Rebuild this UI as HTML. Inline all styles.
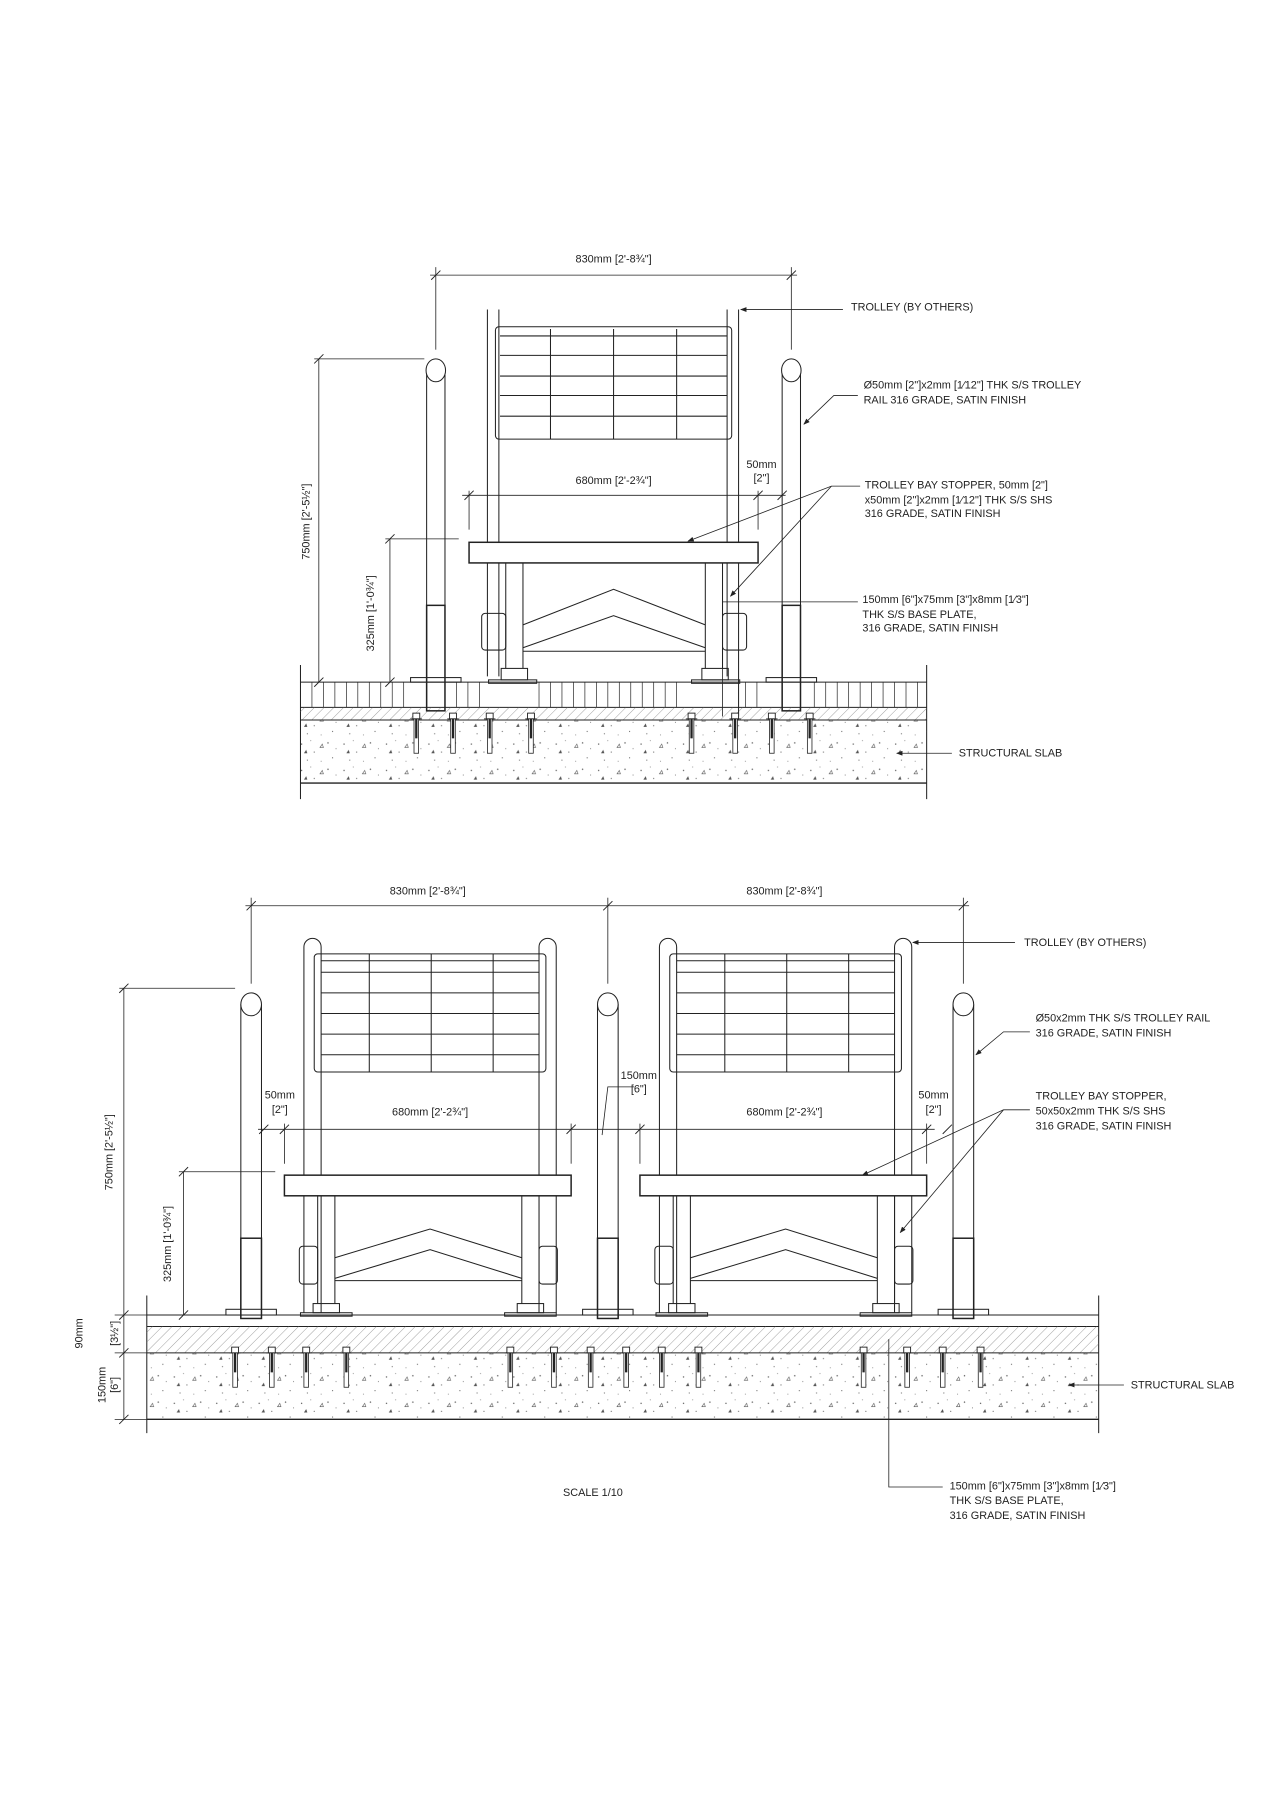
<!DOCTYPE html>
<html><head><meta charset="utf-8"><style>
html,body{margin:0;padding:0;background:#fff;}
svg{display:block;}
text{font-family:"Liberation Sans",sans-serif;font-size:9.5px;fill:#222;}
</style></head><body>
<svg width="1273" height="1800" viewBox="0 0 1110 1570" preserveAspectRatio="none" xmlns="http://www.w3.org/2000/svg">
<defs>
<pattern id="hatch" width="6" height="6" patternUnits="userSpaceOnUse" patternTransform="rotate(45)">
<line x1="0" y1="0" x2="0" y2="6" stroke="#777" stroke-width="0.6"/></pattern>
<pattern id="conc" width="37" height="23" patternUnits="userSpaceOnUse">
<circle cx="4" cy="5" r="0.6" fill="#555"/><circle cx="15" cy="12" r="0.5" fill="#555"/><circle cx="27" cy="4" r="0.6" fill="#555"/>
<circle cx="31" cy="17" r="0.5" fill="#555"/><circle cx="9" cy="19" r="0.5" fill="#555"/><circle cx="21" cy="20" r="0.4" fill="#555"/>
<path d="M20 8 l2 -3 l1 3z" fill="none" stroke="#555" stroke-width="0.5"/>
<path d="M6 13 l2 -3 l1 3z" fill="#555"/>
<circle cx="34" cy="9" r="0.4" fill="#555"/><circle cx="12" cy="2" r="0.4" fill="#555"/>
</pattern>
<marker id="ar" markerWidth="8" markerHeight="6" refX="7" refY="3" orient="auto"><path d="M0 0 L8 3 L0 6z" fill="#222"/></marker>
<g id="bolt"><rect x="-3" y="0" width="6" height="5" fill="#fff" stroke="#222" stroke-width="0.8"/><line x1="-5" y1="5" x2="5" y2="5" stroke="#222"/><rect x="-2" y="5" width="4" height="30" fill="#fff" stroke="#222" stroke-width="0.7"/><line x1="0" y1="5" x2="0" y2="22" stroke="#222" stroke-width="2"/></g>
<g id="tick"><line x1="-4" y1="4" x2="4" y2="-4" stroke="#222" stroke-width="0.8"/></g>
</defs>
<g stroke="#222" stroke-width="0.9" fill="none">
<!-- ===== TOP DRAWING ===== -->
<!-- floor -->
<line x1="262" y1="580" x2="262" y2="697"/><line x1="808" y1="580" x2="808" y2="697"/>
<line x1="262" y1="595" x2="808" y2="595"/>
<line x1="262" y1="617" x2="808" y2="617"/>
<rect x="262" y="617" width="546" height="11" fill="url(#hatch)" stroke="none"/>
<line x1="262" y1="628" x2="808" y2="628"/>
<rect x="262" y="628" width="546" height="55" fill="url(#conc)" stroke="none"/>
<line x1="262" y1="683" x2="808" y2="683" stroke-width="1.2"/>
<g stroke-width="0.6">
<path d="M272 595v22M282 595v22M292 595v22M302 595v22M312 595v22M322 595v22M332 595v22M342 595v22M352 595v22M398 595v22M408 595v22M418 595v22M470 595v22M480 595v22M490 595v22M500 595v22M510 595v22M520 595v22M530 595v22M540 595v22M550 595v22M560 595v22M570 595v22M580 595v22M590 595v22M650 595v22M660 595v22M710 595v22M720 595v22M730 595v22M740 595v22M750 595v22M760 595v22M770 595v22M780 595v22M790 595v22M800 595v22"/>
</g>
<!-- posts -->
<g fill="#fff">
<line x1="372" y1="323" x2="372" y2="620"/><line x1="388" y1="323" x2="388" y2="620"/>
<ellipse cx="380" cy="323" rx="8.5" ry="10"/>
<line x1="682" y1="323" x2="682" y2="620"/><line x1="698" y1="323" x2="698" y2="620"/>
<ellipse cx="690" cy="323" rx="8.5" ry="10"/>
</g>
<rect x="372" y="528" width="16" height="92" stroke-width="1.3"/>
<rect x="682" y="528" width="16" height="92" stroke-width="1.3"/>
<rect x="358" y="591" width="44" height="4"/><rect x="668" y="591" width="44" height="4"/>
<!-- trolley -->
<line x1="425" y1="270" x2="425" y2="590"/><line x1="435" y1="270" x2="435" y2="590"/>
<line x1="634" y1="270" x2="634" y2="590"/><line x1="644" y1="270" x2="644" y2="625"/>
<rect x="432" y="285" width="206" height="98" rx="3"/>
<path d="M436 293H634M436 310H634M436 328H634M436 345H634M436 363H634M480 287V383M535 287V383M590 287V383"/>
<rect x="409" y="473" width="252" height="18" stroke-width="1.3" fill="#fff"/>
<path d="M441 491V583M456 491V583M615 491V583M630 491V583"/>
<rect x="420" y="535" width="21" height="32" rx="3"/><rect x="630" y="535" width="21" height="32" rx="3"/>
<path d="M456 545L535 514L615 545M456 565L535 537L615 565M456 568H615"/>
<rect x="437" y="583" width="23" height="10"/><rect x="612" y="583" width="23" height="10"/>
<rect x="426" y="593" width="42" height="3"/><rect x="603" y="593" width="42" height="3"/>
<!-- bolts top -->
<g fill="#fff" stroke-width="0.7">
<use href="#bolt" x="363" y="622"/><use href="#bolt" x="395" y="622"/><use href="#bolt" x="427" y="622"/><use href="#bolt" x="463" y="622"/>
<use href="#bolt" x="603" y="622"/><use href="#bolt" x="641" y="622"/><use href="#bolt" x="673" y="622"/><use href="#bolt" x="706" y="622"/>
</g>
<!-- dims top -->
<line x1="375" y1="240" x2="695" y2="240" stroke-width="0.7"/>
<line x1="380" y1="233" x2="380" y2="305" stroke-width="0.7"/><line x1="690" y1="233" x2="690" y2="305" stroke-width="0.7"/>
<use href="#tick" x="380" y="240"/><use href="#tick" x="690" y="240"/>
<line x1="278" y1="313" x2="278" y2="595" stroke-width="0.7"/><line x1="274" y1="313" x2="370" y2="313" stroke-width="0.7"/>
<use href="#tick" x="278" y="313"/><use href="#tick" x="278" y="595"/>
<line x1="340" y1="470" x2="340" y2="595" stroke-width="0.7"/><line x1="336" y1="470" x2="400" y2="470" stroke-width="0.7"/>
<use href="#tick" x="340" y="470"/><use href="#tick" x="340" y="595"/>
<line x1="403" y1="432" x2="685" y2="432" stroke-width="0.7"/>
<line x1="409" y1="428" x2="409" y="460" y2="462" stroke-width="0.7"/><line x1="661" y1="428" x2="661" y2="462" stroke-width="0.7"/>
<use href="#tick" x="409" y="432"/><use href="#tick" x="661" y="432"/><use href="#tick" x="682" y="432"/>
<!-- leaders top -->
<line x1="735" y1="270" x2="646" y2="270" marker-end="url(#ar)" stroke-width="0.7"/>
<path d="M748 345H727L701 370" marker-end="url(#ar)" stroke-width="0.7"/>
<path d="M750 424H725L600 472" marker-end="url(#ar)" stroke-width="0.7"/>
<path d="M725 424L637 520" marker-end="url(#ar)" stroke-width="0.7"/>
<path d="M748 525H630V625" stroke-width="0.7"/>
<line x1="830" y1="657" x2="782" y2="657" marker-end="url(#ar)" stroke-width="0.7"/>

<!-- ===== BOTTOM DRAWING ===== -->
<line x1="128" y1="1130" x2="128" y2="1250"/><line x1="958" y1="1130" x2="958" y2="1250"/>
<line x1="128" y1="1147" x2="958" y2="1147"/>
<line x1="128" y1="1157" x2="958" y2="1157"/>
<rect x="128" y="1157" width="830" height="23" fill="url(#hatch)" stroke="none"/>
<line x1="128" y1="1180" x2="958" y2="1180"/>
<rect x="128" y="1180" width="830" height="58" fill="url(#conc)" stroke="none"/>
<line x1="128" y1="1238" x2="958" y2="1238" stroke-width="1.2"/>
<!-- posts bottom -->
<g fill="#fff">
<path d="M210 876V1150M228 876V1150M521 876V1150M539 876V1150M831 876V1150M849 876V1150"/>
<ellipse cx="219" cy="876" rx="9" ry="10"/><ellipse cx="530" cy="876" rx="9" ry="10"/><ellipse cx="840" cy="876" rx="9" ry="10"/>
</g>
<rect x="210" y="1080" width="18" height="70" stroke-width="1.3"/>
<rect x="521" y="1080" width="18" height="70" stroke-width="1.3"/>
<rect x="831" y="1080" width="18" height="70" stroke-width="1.3"/>
<rect x="197" y="1142" width="44" height="5"/><rect x="508" y="1142" width="44" height="5"/><rect x="818" y="1142" width="44" height="5"/>
<!-- trolleys bottom -->
<g id="trol">
<path d="M265 1145V826a7.5 7.5 0 0 1 15 0V1145M470 1145V826a7.5 7.5 0 0 1 15 0V1145"/>
<rect x="274" y="832" width="202" height="103" rx="3"/>
<path d="M280 838H470M280 848H470M280 866H470M280 884H470M280 902H470M280 920H470M322 832V935M376 832V935M430 832V935"/>
<rect x="248" y="1025" width="250" height="18" stroke-width="1.3" fill="#fff"/>
<path d="M277 1043V1137M292 1043V1137M455 1043V1137M470 1043V1137"/>
<rect x="261" y="1087" width="16" height="33" rx="3"/><rect x="470" y="1087" width="16" height="33" rx="3"/>
<path d="M292 1097L375 1072L455 1097M292 1115L375 1090L455 1115M292 1117H455"/>
<rect x="273" y="1137" width="23" height="8"/><rect x="451" y="1137" width="23" height="8"/>
<rect x="262" y="1145" width="45" height="3"/><rect x="440" y="1145" width="45" height="3"/>
</g>
<use href="#trol" x="310" y="0"/>
<!-- bolts bottom -->
<g fill="#fff" stroke-width="0.7">
<use href="#bolt" x="205" y="1175"/><use href="#bolt" x="237" y="1175"/><use href="#bolt" x="267" y="1175"/><use href="#bolt" x="302" y="1175"/>
<use href="#bolt" x="445" y="1175"/><use href="#bolt" x="483" y="1175"/><use href="#bolt" x="515" y="1175"/><use href="#bolt" x="546" y="1175"/>
<use href="#bolt" x="577" y="1175"/><use href="#bolt" x="609" y="1175"/><use href="#bolt" x="753" y="1175"/><use href="#bolt" x="791" y="1175"/>
<use href="#bolt" x="822" y="1175"/><use href="#bolt" x="855" y="1175"/>
</g>
<!-- dims bottom -->
<g stroke-width="0.7">
<line x1="214" y1="790" x2="845" y2="790"/>
<line x1="219" y1="783" x2="219" y2="858"/><line x1="530" y1="783" x2="530" y2="858"/><line x1="840" y1="783" x2="840" y2="858"/>
<line x1="108" y1="862" x2="108" y2="1238"/><line x1="104" y1="862" x2="205" y2="862"/>
<line x1="100" y1="1147" x2="128" y2="1147"/><line x1="100" y1="1180" x2="128" y2="1180"/><line x1="100" y1="1238" x2="128" y2="1238"/>
<line x1="160" y1="1022" x2="160" y2="1147"/><line x1="156" y1="1022" x2="240" y2="1022"/>
<line x1="225" y1="985" x2="815" y2="985"/>
<line x1="248" y1="980" x2="248" y2="1015"/><line x1="498" y1="980" x2="498" y2="1015"/><line x1="558" y1="980" x2="558" y2="1015"/><line x1="808" y1="980" x2="808" y2="1015"/>
<path d="M553 948H530L525 990"/>
</g>
<use href="#tick" x="219" y="790"/><use href="#tick" x="530" y="790"/><use href="#tick" x="840" y="790"/>
<use href="#tick" x="108" y="862"/><use href="#tick" x="108" y="1147"/><use href="#tick" x="108" y="1180"/><use href="#tick" x="108" y="1238"/>
<use href="#tick" x="160" y="1022"/><use href="#tick" x="160" y="1147"/>
<use href="#tick" x="230" y="985"/><use href="#tick" x="248" y="985"/><use href="#tick" x="498" y="985"/><use href="#tick" x="558" y="985"/><use href="#tick" x="808" y="985"/><use href="#tick" x="826" y="985"/>
<!-- leaders bottom -->
<g stroke-width="0.7">
<line x1="885" y1="822" x2="796" y2="822" marker-end="url(#ar)"/>
<path d="M898 900H875L851 920" marker-end="url(#ar)"/>
<path d="M898 968H875L752 1025" marker-end="url(#ar)"/>
<path d="M875 968L785 1075" marker-end="url(#ar)"/>
<line x1="980" y1="1208" x2="932" y2="1208" marker-end="url(#ar)"/>
<path d="M775 1168V1297H822"/>
</g>
</g>
<!-- ===== TEXT ===== -->
<text x="535" y="229" text-anchor="middle">830mm [2'-8¾"]</text>
<text x="742" y="271">TROLLEY (BY OTHERS)</text>
<text x="753" y="339">Ø50mm [2"]x2mm [1⁄12"] THK S/S TROLLEY</text>
<text x="753" y="352">RAIL 316 GRADE, SATIN FINISH</text>
<text x="535" y="422" text-anchor="middle">680mm [2'-2¾"]</text>
<text x="664" y="408" text-anchor="middle">50mm</text>
<text x="664" y="420" text-anchor="middle">[2"]</text>
<text x="754" y="426">TROLLEY BAY STOPPER, 50mm [2"]</text>
<text x="754" y="439">x50mm [2"]x2mm [1⁄12"] THK S/S SHS</text>
<text x="754" y="451">316 GRADE, SATIN FINISH</text>
<text x="752" y="526">150mm [6"]x75mm [3"]x8mm [1⁄3"]</text>
<text x="752" y="539">THK S/S BASE PLATE,</text>
<text x="752" y="551">316 GRADE, SATIN FINISH</text>
<text x="836" y="660">STRUCTURAL SLAB</text>
<text transform="translate(270,455) rotate(-90)" text-anchor="middle">750mm [2'-5½"]</text>
<text transform="translate(326,535) rotate(-90)" text-anchor="middle">325mm [1'-0¾"]</text>

<text x="373" y="780" text-anchor="middle">830mm [2'-8¾"]</text>
<text x="684" y="780" text-anchor="middle">830mm [2'-8¾"]</text>
<text x="893" y="825">TROLLEY (BY OTHERS)</text>
<text x="903" y="891">Ø50x2mm THK S/S TROLLEY RAIL</text>
<text x="903" y="904">316 GRADE, SATIN FINISH</text>
<text x="903" y="959">TROLLEY BAY STOPPER,</text>
<text x="903" y="972">50x50x2mm THK S/S SHS</text>
<text x="903" y="985">316 GRADE, SATIN FINISH</text>
<text x="244" y="958" text-anchor="middle">50mm</text>
<text x="244" y="971" text-anchor="middle">[2"]</text>
<text x="557" y="941" text-anchor="middle">150mm</text>
<text x="557" y="953" text-anchor="middle">[6"]</text>
<text x="814" y="958" text-anchor="middle">50mm</text>
<text x="814" y="971" text-anchor="middle">[2"]</text>
<text x="375" y="973" text-anchor="middle">680mm [2'-2¾"]</text>
<text x="684" y="973" text-anchor="middle">680mm [2'-2¾"]</text>
<text transform="translate(98,1005) rotate(-90)" text-anchor="middle">750mm [2'-5½"]</text>
<text transform="translate(149,1085) rotate(-90)" text-anchor="middle">325mm [1'-0¾"]</text>
<text transform="translate(72,1163) rotate(-90)" text-anchor="middle">90mm</text>
<text transform="translate(103,1163) rotate(-90)" text-anchor="middle">[3½"]</text>
<text transform="translate(92,1208) rotate(-90)" text-anchor="middle">150mm</text>
<text transform="translate(103,1208) rotate(-90)" text-anchor="middle">[6"]</text>
<text x="986" y="1211">STRUCTURAL SLAB</text>
<text x="517" y="1305" text-anchor="middle">SCALE 1/10</text>
<text x="828" y="1299">150mm [6"]x75mm [3"]x8mm [1⁄3"]</text>
<text x="828" y="1312">THK S/S BASE PLATE,</text>
<text x="828" y="1325">316 GRADE, SATIN FINISH</text>
</svg>
</body></html>
